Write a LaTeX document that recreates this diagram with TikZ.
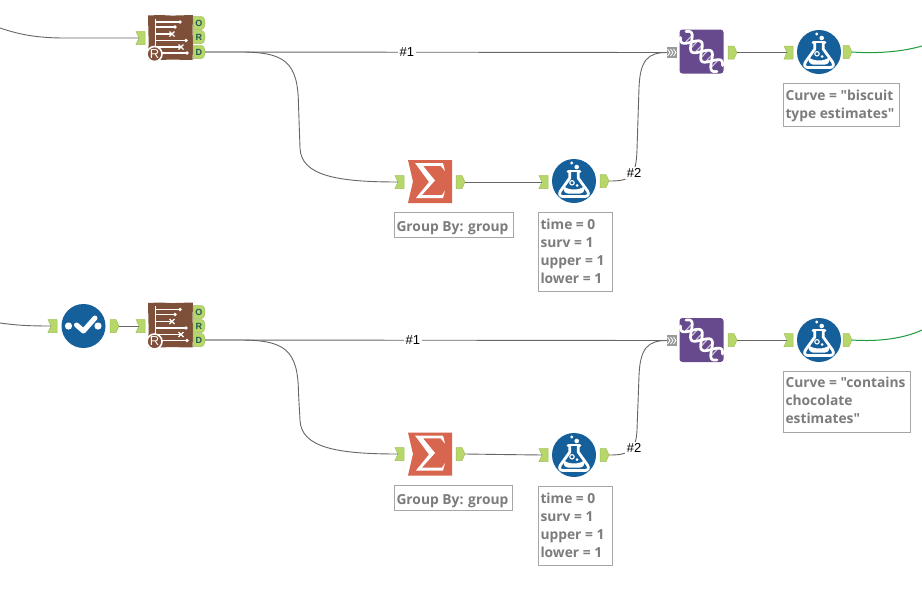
\documentclass[tikz,border=0pt]{standalone}
\usepackage{fontspec}
\setmainfont{Liberation Sans}
\newfontfamily\notefont{Open Sans}
\definecolor{anchorgreen}{HTML}{B7D76B}
\definecolor{anchoredge}{HTML}{A0C058}
\definecolor{toolblue}{HTML}{155F9B}
\definecolor{toolbrown}{HTML}{7E4F39}
\definecolor{toolpurple}{HTML}{674A8E}
\definecolor{toolorange}{HTML}{D8654D}
\definecolor{wire}{HTML}{666666}
\definecolor{wiregreen}{HTML}{1E9B3C}
\definecolor{notegray}{HTML}{7C7C7C}
\definecolor{noteedge}{HTML}{A6A6A6}
\definecolor{nubtext}{HTML}{1F5A55}
\tikzset{
  wireline/.style={draw=wire,line width=0.9pt},
  greenline/.style={draw=wiregreen,line width=1pt},
  anchorshape/.style={fill=anchorgreen,draw=anchoredge,line width=0.5pt},
  circletool/.style={circle,fill=toolblue,draw=none,minimum size=44pt,inner sep=0pt},
  sqtool/.style={rectangle,draw=none,minimum width=44pt,minimum height=44pt,inner sep=0pt},
  note/.style={draw=noteedge,line width=1.2pt,fill=white,anchor=north west,inner sep=2pt,outer sep=0pt,
     align=left,text=notegray,font=\notefont\bfseries\fontsize{13.8}{18}\selectfont},
  notelift/.style={text depth=2pt},
  notedrop/.style={text height=16pt},
  linklabel/.style={fill=white,inner sep=1.5pt,text=black,font=\fontsize{13}{14}\selectfont},
  nubletter/.style={inner sep=0pt,text=nubtext,font=\bfseries\fontsize{9}{9}\selectfont},
  whiteline/.style={draw=white,line cap=round,line join=round},
}
\newcommand{\inanchor}[3]{%
  \path[anchorshape] (#2-4.5,#3-6.5) -- (#2+4.5,#3-6.5) -- (#2+4.5,#3+6.5) -- (#2-4.5,#3+6.5) -- (#2-1.5,#3) -- cycle;
  \coordinate (#1) at (#2-1.5,#3);}
\newcommand{\outanchor}[3]{%
  \path[anchorshape] (#2-4.5,#3-6.5) -- (#2+1.5,#3-6.5) -- (#2+4.5,#3) -- (#2+1.5,#3+6.5) -- (#2-4.5,#3+6.5) -- cycle;
  \coordinate (#1) at (#2+4.5,#3);}
\newcommand{\nub}[3]{%
  \path[anchorshape] (193,#3-6.5) -- (201,#3-6.5) .. controls (204,#3-6.5) and (205,#3-3) .. (205,#3) .. controls (205,#3+3) and (204,#3+6.5) .. (201,#3+6.5) -- (193,#3+6.5) -- cycle;
  \node[nubletter] at (198.8,#3) {#2};
  \coordinate (#1) at (205,#3);}
\newcommand{\flask}[3]{%
  \node[circletool] (#1) at (#2,#3) {};
  \begin{scope}[shift={(#2,#3)}]
    \fill[white] (-2.3,-18) circle (1.6);
    \fill[white] (2.7,-14) circle (2.3);
    \draw[whiteline,line width=2.8pt] (-6,-9.5) -- (6,-9.5);
    \draw[whiteline,line width=2.8pt,fill=toolblue] (-4.2,-9) -- (-4.2,-3) -- (-13.5,10)
       .. controls (-15.5,13) and (-14,15.5) .. (-11,15.5) -- (11,15.5)
       .. controls (14,15.5) and (15.5,13) .. (13.5,10) -- (4.2,-3) -- (4.2,-9);
    \fill[white] (-10,5.5) .. controls (-5,9.5) and (5,9.5) .. (10,5.5) .. controls (11.5,9) and (9,12.5) .. (6,12.5) -- (-6,12.5) .. controls (-9,12.5) and (-11.5,9) .. (-10,5.5) -- cycle;
    \draw[white,line width=1.1pt] (-2,1.8) circle (2.2);
    \fill[white] (3,4.5) circle (1.5);
  \end{scope}}
\newcommand{\sigmatool}[3]{%
  \node[sqtool] (#1) at (#2,#3) {};
  \begin{scope}[shift={(#2,#3)}]
    \fill[toolorange] (-22,-21.5) -- (22,-21.5) -- (22,21.5) -- (-22,21.5) -- (-17,0) -- cycle;
    \fill[white] (-15,-18.5) -- (13,-18.5) -- (15,-10.5) -- (10.5,-15.7) -- (-7,-15.7) -- (5,-1) -- (-8,13.5) -- (12,13.5) -- (15,9) -- (13,16.5) -- (-14,16.5) -- (-1,0.5) -- cycle;
  \end{scope}}
\newcommand{\dna}[3]{%
  \node[sqtool] (#1) at (#2,#3) {};
  \begin{scope}[shift={(#2,#3)}]
    \fill[toolpurple,rounded corners=3pt] (-22,-22) rectangle (22,22);
    \foreach \t in {-18,-10,-4,4,10,18}{
      \draw[white!70!toolpurple,line width=1.1pt]
        ({0.73*\t-0.68*7*sin(\t*13)},{0.68*\t+0.73*7*sin(\t*13)}) --
        ({0.73*\t+0.68*7*sin(\t*13)},{0.68*\t-0.73*7*sin(\t*13)});}
    \draw[whiteline,line width=2.7pt,smooth] plot[domain=-25:25,samples=40]
       ({0.73*\x-0.68*7*sin(\x*13)},{0.68*\x+0.73*7*sin(\x*13)});
    \draw[whiteline,line width=2.7pt,smooth] plot[domain=-25:25,samples=40]
       ({0.73*\x+0.68*7*sin(\x*13)},{0.68*\x-0.73*7*sin(\x*13)});
  \end{scope}}
\newcommand{\brown}[2]{%
  \node[sqtool,minimum width=45pt,minimum height=45pt] (#1) at (170.5,#2) {};
  \begin{scope}[shift={(148,#2-22.5)}]
    \fill[toolbrown] (0,0.5) -- (12,0) -- (24,0.6) -- (45,0) -- (44.6,15) -- (45,30) -- (44.6,45) -- (24,44.6) -- (8,45) -- (0.3,45) -- (0.6,25) -- cycle;
    \draw[white,line width=1.1pt] (7.5,3.5) -- (7.5,33);
    \foreach \yy/\xe in {7/32,12/27,19/24,25.5/38,32/33}{\draw[white,line width=1.1pt] (7.5,\yy) -- (\xe,\yy);}
    \draw[white,line width=1.1pt] (9,38) -- (39,38);
    \foreach \xd/\yd in {32/7,27/12,38/25.5,39/38}{\fill[white] (\xd,\yd) circle (1.9);}
    \foreach \xd/\yd in {24/19,33/32}{\draw[white,line width=1.2pt] (\xd-2.5,\yd-2.5) -- (\xd+2.5,\yd+2.5) (\xd-2.5,\yd+2.5) -- (\xd+2.5,\yd-2.5);}
    \node[circle,draw=white,fill=toolbrown,line width=1.6pt,minimum size=15pt,inner sep=0pt,text=white,font=\fontsize{13}{13}\selectfont] at (6.5,39) {R};
  \end{scope}}
\newcommand{\joinin}[3]{%
  \node[rectangle,fill=gray!80,minimum width=10pt,minimum height=11pt,inner sep=0pt] (#1) at (#2,#3) {};
  \foreach \dx in {-3,0,3}{\draw[white,line width=0.8pt] (#2+\dx-1.5,#3-3.5) -- (#2+\dx+1,#3) -- (#2+\dx-1.5,#3+3.5);}}
\begin{document}
\begin{tikzpicture}[x=1pt,y=-1pt]
\useasboundingbox[fill=white] (0,0) rectangle (922,595);
% free ends
\coordinate (leftA) at (0,28);
\coordinate (leftB) at (0,323);
\coordinate (greenA) at (922,46);
\coordinate (greenB) at (922,330);
% ---------- upper flow ----------
\inanchor{inBrownA}{140.5}{38}
\brown{brownA}{37.5}
\nub{oA}{O}{23}
\nub{rA}{R}{37}
\nub{dA}{D}{52}
\inanchor{inSumA}{399.5}{182}
\sigmatool{sumA}{430}{181.5}
\outanchor{outSumA}{460.5}{182}
\inanchor{inFormA}{543.5}{182}
\flask{formA}{574}{181}
\outanchor{outFormA}{604.5}{181}
\joinin{joinInA}{672}{52.5}
\dna{joinA}{701.5}{51.5}
\outanchor{outJoinA}{732.5}{52.5}
\inanchor{inResA}{788.5}{52.5}
\flask{resA}{819}{52}
\outanchor{outResA}{847.5}{52}
% ---------- lower flow ----------
\inanchor{inCheck}{52.5}{326}
\node[circletool] (check) at (83.5,326) {};
\fill[white] (68.5,326) circle (3.6) (98,326) circle (3.6);
\draw[whiteline,line width=5pt] (76.5,325) -- (83.5,331) -- (95,318);
\outanchor{outCheck}{114.5}{326}
\inanchor{inBrownB}{140.5}{326}
\brown{brownB}{325}
\nub{oB}{O}{312}
\nub{rB}{R}{326}
\nub{dB}{D}{340}
\inanchor{inSumB}{399.5}{454}
\sigmatool{sumB}{430}{454}
\outanchor{outSumB}{460.5}{454}
\inanchor{inFormB}{543.5}{455}
\flask{formB}{574}{455}
\outanchor{outFormB}{604.5}{455}
\joinin{joinInB}{672}{340.5}
\dna{joinB}{701.5}{340}
\outanchor{outJoinB}{732.5}{340}
\inanchor{inResB}{788.5}{340}
\flask{resB}{819}{340}
\outanchor{outResB}{847.5}{340}
% ---------- connectors ----------
\draw[wireline] (leftA) .. controls (18,34) and (35,38) .. (65,38) -- (inBrownA);
\draw[wireline] (dA) -- (joinInA.west) node[linklabel,pos=0.437] {\#1};
\draw[wireline] (dA) -- (240,52) .. controls (285,52) and (298,62) .. (298.5,105) -- (300,148) .. controls (301,176) and (338,182) .. (inSumA);
\draw[wireline] (outSumA) -- (inFormA);
\draw[wireline] (outFormA) .. controls (630,181) and (636,178) .. (637,150) -- (639,88) .. controls (640,60) and (648,52.5) .. (joinInA.west);
\node[linklabel] (hashAtwo) at (634,173) {\#2};
\draw[wireline] (outJoinA) -- (inResA);
\draw[greenline] (outResA) .. controls (880,54) and (905,51) .. (greenA);
\draw[wireline] (leftB) .. controls (15,325) and (25,326) .. (inCheck);
\draw[wireline] (outCheck) -- (inBrownB);
\draw[wireline] (dB) -- (joinInB.west) node[linklabel,pos=0.45] {\#1};
\draw[wireline] (dB) -- (240,340) .. controls (285,340) and (298,350) .. (298.5,393) -- (300,420) .. controls (301,448) and (338,454) .. (inSumB);
\draw[wireline] (outSumB) -- (500,454.5) -- (inFormB);
\draw[wireline] (outFormB) .. controls (628,455) and (636,452) .. (637,430) -- (639,376) .. controls (640,348) and (648,340.5) .. (joinInB.west);
\node[linklabel] (hashBtwo) at (634,448) {\#2};
\draw[wireline] (outJoinB) -- (inResB);
\draw[greenline] (outResB) .. controls (880,342) and (905,338) .. (greenB);
% ---------- annotations ----------
\node[note,notelift,minimum height=43pt] (noteCurveA) at (783.5,83.5) {\makebox[112pt][l]{Curve = "biscuit}\\type estimates"};
\node[note,notedrop,minimum height=25pt] (noteGroupA) at (394.5,212.5) {\makebox[115pt][l]{Group By: group}};
\node[note,notelift,minimum height=79pt] (noteFormA) at (538.5,212.5) {\makebox[70pt][l]{time = 0}\\surv = 1\\upper = 1\\lower = 1};
\node[note,text depth=4pt,minimum height=61pt] (noteCurveB) at (783.5,371.5) {\makebox[123pt][l]{Curve = "contains}\\chocolate\\estimates"};
\node[note,notedrop,minimum height=25pt] (noteGroupB) at (394.5,485.5) {\makebox[114pt][l]{Group By: group}};
\node[note,notelift,minimum height=79pt] (noteFormB) at (538.5,486.5) {\makebox[70pt][l]{time = 0}\\surv = 1\\upper = 1\\lower = 1};
\end{tikzpicture}
\end{document}
